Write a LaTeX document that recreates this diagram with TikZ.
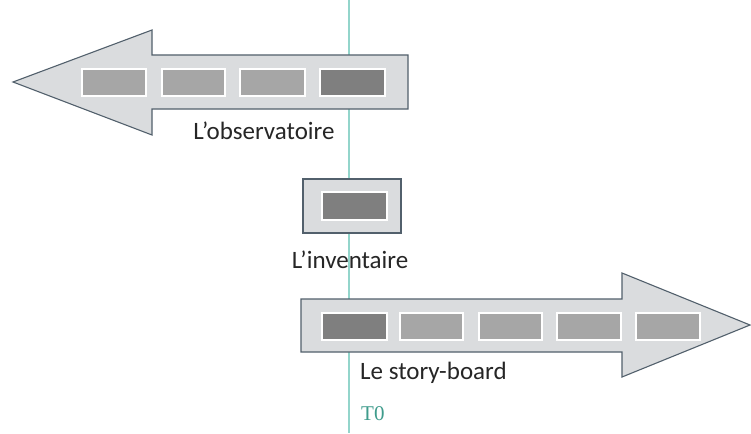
\documentclass[tikz,border=0pt]{standalone}
\usepackage{fontspec}
\setmainfont{Carlito}
\newfontfamily\serifT{Liberation Serif}
\definecolor{arrfill}{HTML}{DADCDE}
\definecolor{arredge}{HTML}{52606C}
\definecolor{cellgray}{HTML}{A6A6A6}
\definecolor{celldark}{HTML}{7F7F7F}
\definecolor{tline}{HTML}{93D5CB}
\definecolor{ttext}{HTML}{3F9C8C}
\begin{document}
\begin{tikzpicture}[x=1pt,y=-1pt,
  bigarrow/.style={fill=arrfill,draw=arredge,line width=1.1pt,line join=miter},
  cell/.style={fill=cellgray,draw=white,line width=1.6pt},
  darkcell/.style={fill=celldark,draw=white,line width=1.6pt},
  lbl/.style={font=\fontsize{25}{27}\selectfont,text=black!85,inner sep=0pt}]
\useasboundingbox (0,0) rectangle (751,433);
\fill[white] (0,0) rectangle (751,433);
% time line
\coordinate (ttop) at (349,0);
\coordinate (tbot) at (349,433);
\draw[tline,line width=1.5pt] (ttop) -- (tbot);
% left arrow
\draw[bigarrow] (13,82) -- (152,30) -- (152,55) -- (408,55) -- (408,109) -- (152,109) -- (152,135) -- cycle;
\draw[cell] (82,69) rectangle (146,96);
\draw[cell] (162,69) rectangle (225,96);
\draw[cell] (240,69) rectangle (305,96);
\draw[darkcell] (320,69) rectangle (385,96);
\node[lbl] (obs) at (264,131) {L’observatoire};
% inventory
\draw[bigarrow] (303,179) rectangle (401,233);
\draw[darkcell] (322,192) rectangle (387,220);
\node[lbl] (inv) at (350,260) {L’inventaire};
% right arrow
\draw[bigarrow] (301,299) -- (622,299) -- (622,273) -- (750,325) -- (622,377) -- (622,352) -- (301,352) -- cycle;
\draw[darkcell] (322,313) rectangle (387,340);
\draw[cell] (400,313) rectangle (463,340);
\draw[cell] (479,313) rectangle (542,340);
\draw[cell] (557,313) rectangle (621,340);
\draw[cell] (636,313) rectangle (700,340);
\node[lbl,anchor=west] (sb) at (360,373) {Le story-board};
\node[anchor=west,inner sep=0pt,text=ttext,font=\serifT\fontsize{21}{23}\selectfont] (t0) at (361,414) {T0};
\end{tikzpicture}
\end{document}
